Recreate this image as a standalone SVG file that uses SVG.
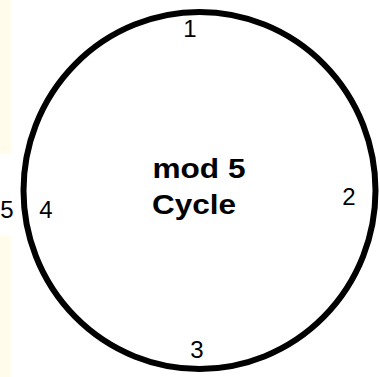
<svg xmlns="http://www.w3.org/2000/svg" width="380" height="377" viewBox="0 0 380 377">
  <style>
    .bg { fill: #FFFCEB; }
    .ring { fill: none; stroke: #000; stroke-width: 6; }
    .num { font-family: "Liberation Sans", Arial, sans-serif; font-size: 24px; fill: #000; text-anchor: middle; }
    .title { font-family: "Liberation Sans", Arial, sans-serif; font-size: 27px; font-weight: bold; fill: #000; text-anchor: middle; }
  </style>
  <rect width="380" height="377" fill="#fff"/>
  <rect class="bg" x="0" y="0" width="11" height="153"/>
  <rect class="bg" x="0" y="236" width="11" height="141"/>
  <g id="cycle">
    <ellipse class="ring" cx="199.5" cy="190.5" rx="176" ry="178.5"/>
    <text class="title" x="199" y="178" textLength="93" lengthAdjust="spacingAndGlyphs">mod 5</text>
    <text class="title" x="194" y="214" textLength="84" lengthAdjust="spacingAndGlyphs">Cycle</text>
  </g>
  <g id="n1"><text class="num" x="190" y="37">1</text></g>
  <g id="n2"><text class="num" x="349" y="205">2</text></g>
  <g id="n3"><text class="num" x="197" y="358">3</text></g>
  <g id="n4"><text class="num" x="46" y="218">4</text></g>
  <g id="n5"><text class="num" x="7" y="218">5</text></g>
  <g id="connectors"></g>
</svg>
